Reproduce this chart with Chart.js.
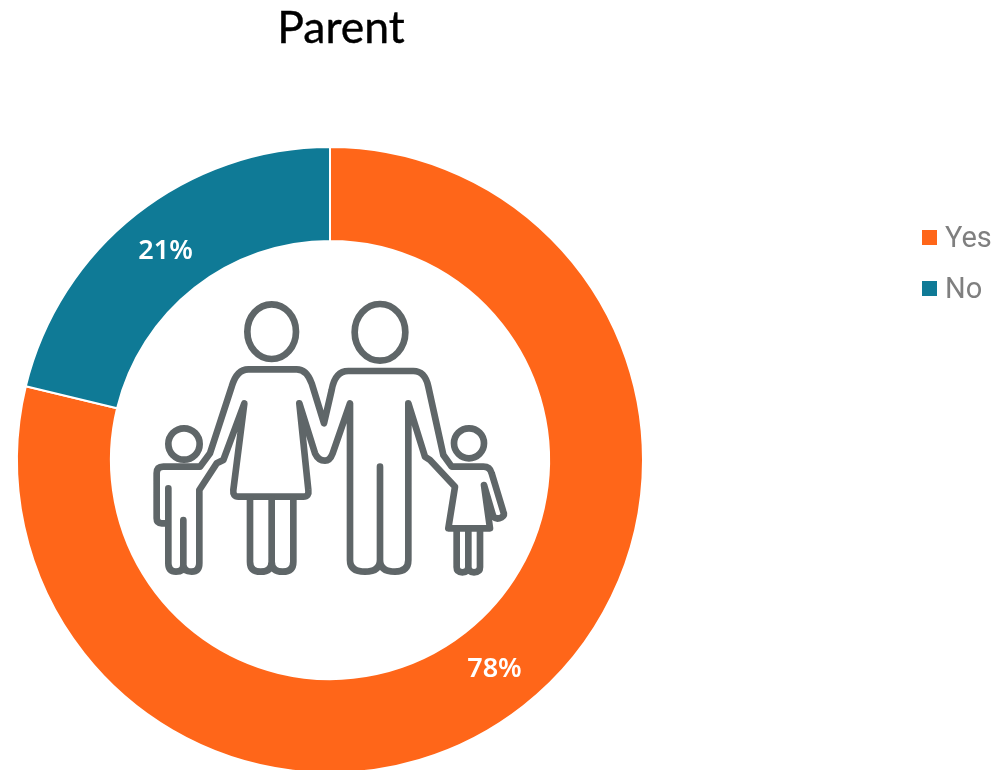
<!DOCTYPE html>
<html>
<head>
<meta charset="utf-8">
<title>Parent</title>
<script src="https://cdn.jsdelivr.net/npm/chart.js@4"></script>
<style>
  html, body { margin: 0; padding: 0; background: #fff; overflow: hidden; }
  #wrap { position: relative; width: 997px; height: 770px; overflow: hidden; }
  #parentChart { position: absolute; left: 0; top: 0; }
  #title { position: absolute; left: 241px; width: 200px; top: -2px; text-align: center;
           font: 44.5px Lato, sans-serif; line-height: 56px; color: #000; -webkit-text-stroke: 0.4px #000; }
  #icon { position: absolute; left: 140px; top: 290px; }
  .legend-item { position: absolute; left: 922px; height: 30px; line-height: 30px;
                 font: 29px Roboto, sans-serif; color: #7f7f7f; }
  .legend-item i { position: absolute; left: 0; top: 8px; width: 15px; height: 15px; }
  .legend-item span { position: absolute; left: 23px; top: 0; line-height: 30px; }
</style>
</head>
<body>
<div id="wrap">
  <!-- ring runs slightly off the bottom of the picture, so the canvas is taller than the window -->
  <canvas id="parentChart" width="997" height="780"></canvas>
  <div id="title">Parent</div>
  <svg id="icon" width="380" height="300" viewBox="0 0 1140 900" fill="none" stroke="#5f6668" stroke-width="20" stroke-linecap="round" stroke-linejoin="round">
    <ellipse cx="395" cy="125" rx="73" ry="82"/>
    <ellipse cx="720" cy="127" rx="76" ry="85"/>
    <circle cx="132" cy="462" r="47"/>
    <circle cx="987" cy="460" r="45"/>
    <!-- boy, woman's and man's outer arms, girl -->
    <path d="M85 595 L85 820 Q85 845 108 845 Q130 845 130 825 L130 690 M130 825 Q132 845 155 845 Q178 845 178 820 L178 600 L230 520 L250 510 L313 340 L280 600 Q278 620 295 620 L490 620 Q508 620 505 600 L478 340 L525 490 Q535 512 555 512 Q570 512 578 490 L630 340 L630 810 Q630 845 675 845 Q720 845 720 810 L720 530 M720 810 Q720 845 765 845 Q805 845 805 810 L805 340 L855 500 L870 510 L945 590 L925 715 L1050 715 L1032 585 L1060 680 Q1070 690 1085 682 Q1095 675 1090 665 L1055 550 Q1050 530 1030 530 L935 530 L910 495 L865 290 Q855 243 820 243 L625 243 Q585 243 575 300 L552 400 L515 280 Q500 238 470 238 L325 238 Q290 238 275 290 L210 490 L180 530 L70 530 Q50 530 50 550 L50 685 Q50 700 65 700 L85 700"/>
    <path d="M330 625 L330 815 Q330 845 362 845 Q395 845 395 815 L395 625 M395 815 Q395 845 428 845 Q460 845 460 815 L460 625"/>
    <path d="M950 720 L950 832 Q950 847 967 847 Q985 847 985 832 L985 720 M985 832 Q985 847 1002 847 Q1020 847 1020 832 L1020 720"/>
  </svg>
</div>
<script>
const categories = ["Yes", "No"];
const seriesValues = [78, 21];
const sliceColors = ["#ff6619", "#0f7a96"];
const percentLabels = ["78%", "21%"];
const legendTops = [222, 273];

// white percentages in the middle of each ring slice
const sliceLabels = {
  id: "sliceLabels",
  afterDatasetsDraw(chart) {
    const ctx = chart.ctx;
    ctx.save();
    ctx.fillStyle = "#fff";
    ctx.font = "600 27px 'Noto Sans', sans-serif";
    ctx.textAlign = "center";
    ctx.textBaseline = "middle";
    chart.getDatasetMeta(0).data.forEach((arc, i) => {
      const p = arc.getCenterPoint();
      ctx.fillText(percentLabels[i], p.x, p.y);
    });
    ctx.restore();
  }
};

new Chart(document.getElementById("parentChart").getContext("2d"), {
  type: "doughnut",
  data: {
    labels: categories,
    datasets: [{
      data: seriesValues,
      backgroundColor: sliceColors,
      borderColor: "#fff",
      borderWidth: 2
    }]
  },
  options: {
    responsive: false,
    animation: false,
    cutout: "70%",
    layout: { padding: { left: 16, right: 353, top: 146, bottom: 6 } },
    plugins: { legend: { display: false }, tooltip: { enabled: false } }
  },
  plugins: [sliceLabels]
});

// legend sits far right of the ring, so it's plain html
const wrap = document.getElementById("wrap");
categories.forEach((name, i) => {
  const item = document.createElement("div");
  item.className = "legend-item";
  item.style.top = legendTops[i] + "px";
  item.innerHTML = '<i style="background:' + sliceColors[i] + '"></i><span>' + name + "</span>";
  wrap.appendChild(item);
});
</script>
</body>
</html>
